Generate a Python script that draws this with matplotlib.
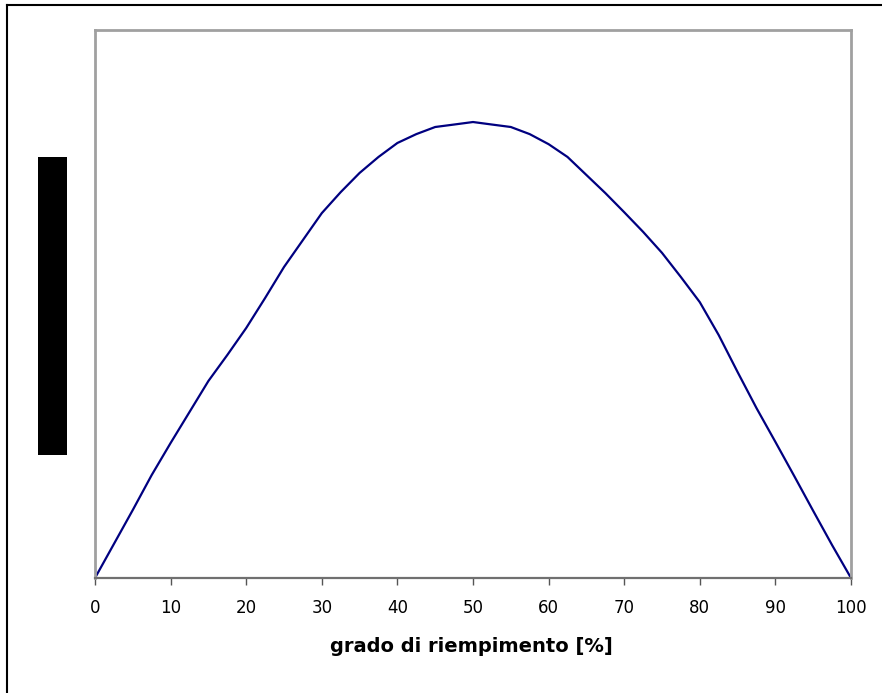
import matplotlib
matplotlib.use("Agg")
import matplotlib.pyplot as plt
from matplotlib.patches import Rectangle
from matplotlib.lines import Line2D

# Filling degree [%] and relative value of the curve
fill_pct = [0, 2.5, 5, 7.5, 10, 12.5, 15, 17.5, 20, 22.5, 25, 27.5, 30, 32.5,
            35, 37.5, 40, 42.5, 45, 47.5, 50, 52.5, 55, 57.5, 60, 62.5, 65,
            67.5, 70, 72.5, 75, 77.5, 80, 82.5, 85, 87.5, 90, 92.5, 95, 97.5, 100]
values = [0.0, 0.0745, 0.149, 0.2255, 0.2956, 0.3635, 0.4314, 0.4883, 0.5474,
          0.6131, 0.681, 0.740, 0.799, 0.845, 0.887, 0.922, 0.9526, 0.972,
          0.9876, 0.993, 0.9985, 0.993, 0.9876, 0.972, 0.950, 0.922, 0.8825,
          0.843, 0.801, 0.758, 0.712, 0.659, 0.604, 0.532, 0.451, 0.372,
          0.298, 0.223, 0.147, 0.072, 0.0]
x_ticks = [0, 10, 20, 30, 40, 50, 60, 70, 80, 90, 100]
x_label = "grado di riempimento [%]"

plt.rcParams['font.family'] = ['DejaVu Sans']

W, H = 882, 693
fig = plt.figure(figsize=(W / 100, H / 100), dpi=100)
fig.patch.set_facecolor("white")

ax = fig.add_axes([95 / W, 1 - 578 / H, (851 - 95) / W, (578 - 30) / H])
ax.plot(fill_pct, values, color="#000080", lw=1.6, solid_joinstyle="miter")

ax.set_xlim(0, 100)
ax.set_ylim(0, 1.2)
ax.set_xticks(x_ticks)
ax.set_xticklabels([str(t) for t in x_ticks])
ax.set_yticks([])
ax.tick_params(axis="x", direction="out", length=5, width=1, color="#555555",
               labelsize=12, pad=10, labelcolor="black")

for side in ("left", "right", "top"):
    ax.spines[side].set_color("#a0a0a0")
    ax.spines[side].set_linewidth(2)
ax.spines["bottom"].set_color("#707070")
ax.spines["bottom"].set_linewidth(1.6)

# Axis title, centred under the plot
fig.text(471 / W, 1 - 647 / H, x_label, fontsize=14,
         fontweight="bold", ha="center", va="center")

# Black block where the vertical axis title sits
fig.patches.append(Rectangle((38 / W, 1 - 455 / H), 29 / W, 298 / H,
                             transform=fig.transFigure, facecolor="black",
                             edgecolor="none"))

# Frame lines along the top and left edges
fig.lines.append(Line2D([7 / W, 1], [1 - 5 / H, 1 - 5 / H],
                        transform=fig.transFigure, color="black", lw=1.5))
fig.lines.append(Line2D([7 / W, 7 / W], [0, 1 - 5 / H],
                        transform=fig.transFigure, color="black", lw=1.5))

fig.savefig("out.png", dpi=100)
